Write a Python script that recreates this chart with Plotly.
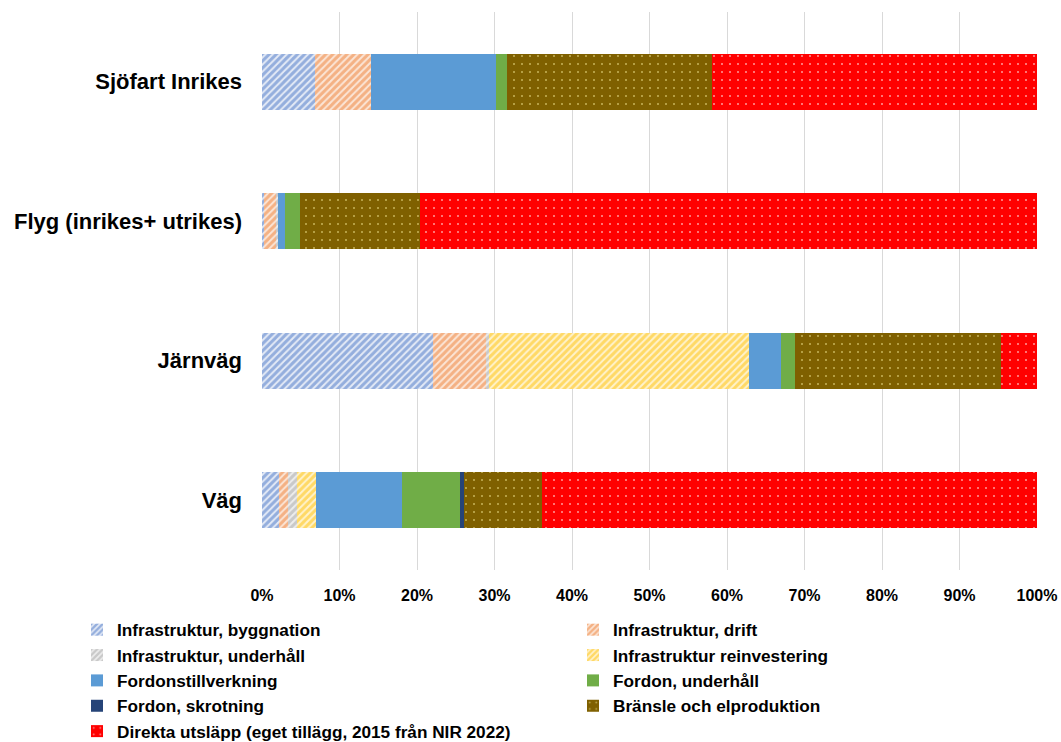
import plotly.graph_objects as go

categories = ["Sjöfart Inrikes", "Flyg (inrikes+ utrikes)", "Järnväg", "Väg"]

series_names = [
    "Infrastruktur, byggnation",
    "Infrastruktur, drift",
    "Infrastruktur, underhåll",
    "Infrastruktur reinvestering",
    "Fordonstillverkning",
    "Fordon, underhåll",
    "Fordon, skrotning",
    "Bränsle och elproduktion",
    "Direkta utsläpp (eget tillägg, 2015 från NIR 2022)",
]

byggnation = [6.9, 0.2, 22.1, 2.2]
drift = [7.1, 1.6, 6.8, 1.2]
underhall_infra = [0.0, 0.3, 0.4, 1.1]
reinvestering = [0.0, 0.0, 33.5, 2.5]
tillverkning = [16.2, 0.9, 4.2, 11.0]
underhall_fordon = [1.4, 1.9, 1.8, 7.5]
skrotning = [0.0, 0.0, 0.0, 0.6]
bransle = [26.4, 15.5, 26.5, 10.0]
direkta = [42.0, 79.6, 4.7, 63.9]

tick_vals = [0, 10, 20, 30, 40, 50, 60, 70, 80, 90, 100]
tick_text = ["0%", "10%", "20%", "30%", "40%", "50%", "60%", "70%", "80%", "90%", "100%"]

all_values = [byggnation, drift, underhall_infra, reinvestering, tillverkning,
              underhall_fordon, skrotning, bransle, direkta]
colors = ["#4472C4", "#ED7D31", "#A5A5A5", "#FFC000", "#5B9BD5",
          "#70AD47", "#264478", "#7F6000", "#FF0000"]
patterns = [
    dict(shape="/", fgcolor="#4472C4", bgcolor="#E4EAF6", size=5, solidity=0.6),
    dict(shape="/", fgcolor="#ED7D31", bgcolor="#FBE5D6", size=5, solidity=0.6),
    dict(shape="/", fgcolor="#A5A5A5", bgcolor="#EDEDED", size=5, solidity=0.6),
    dict(shape="/", fgcolor="#FFC000", bgcolor="#FFF2CC", size=5, solidity=0.6),
    None,
    None,
    None,
    dict(shape=".", fgcolor="#C8B45A", bgcolor="#7F6000", size=8, solidity=0.05, fillmode="replace"),
    dict(shape=".", fgcolor="#FF9A9A", bgcolor="#FF0000", size=8, solidity=0.05, fillmode="replace"),
]
# left legend column gets even indices, right column odd indices
legend_ids = ["legend" if i % 2 == 0 else "legend2" for i in range(len(series_names))]

fig = go.Figure()
for name, vals, col, pat, lg in zip(series_names, all_values, colors, patterns, legend_ids):
    marker = dict(color=col, line=dict(width=0))
    if pat is not None:
        marker["pattern"] = pat
    fig.add_trace(go.Bar(
        name=name, y=categories, x=vals, orientation="h", marker=marker, legend=lg,
    ))

plot_left, plot_right, plot_top, plot_bottom = 262, 1037, 12, 570
plot_w = plot_right - plot_left
plot_h = plot_bottom - plot_top

legend_font = dict(size=17.2, family="Liberation Sans, Arial", weight="bold")
legend_y = -(612 - plot_bottom) / plot_h

fig.update_layout(
    barmode="stack",
    bargap=0.6,
    width=1061, height=742,
    margin=dict(l=plot_left, r=1061 - plot_right, t=plot_top, b=742 - plot_bottom,
                autoexpand=False),
    plot_bgcolor="white",
    paper_bgcolor="white",
    font=dict(family="Liberation Sans, Arial", color="black"),
    legend=dict(
        orientation="v",
        x=(77 - plot_left) / plot_w, y=legend_y,
        xanchor="left", yanchor="top",
        font=legend_font, itemwidth=30, traceorder="normal",
        bgcolor="rgba(0,0,0,0)",
    ),
    legend2=dict(
        orientation="v",
        x=(573 - plot_left) / plot_w, y=legend_y,
        xanchor="left", yanchor="top",
        font=legend_font, itemwidth=30, traceorder="normal",
        bgcolor="rgba(0,0,0,0)",
    ),
    xaxis=dict(
        range=[0, 100],
        tickvals=tick_vals, ticktext=tick_text,
        showgrid=True, gridcolor="#D9D9D9", gridwidth=1,
        zeroline=False,
        tickfont=dict(size=16, weight="bold"),
        ticklabelstandoff=14,
        automargin=False,
        fixedrange=True,
    ),
    yaxis=dict(
        autorange="reversed",
        tickfont=dict(size=22, weight="bold"),
        ticklabelstandoff=19,
        showgrid=False,
        automargin=False,
    ),
)

fig.write_html("out.html")
